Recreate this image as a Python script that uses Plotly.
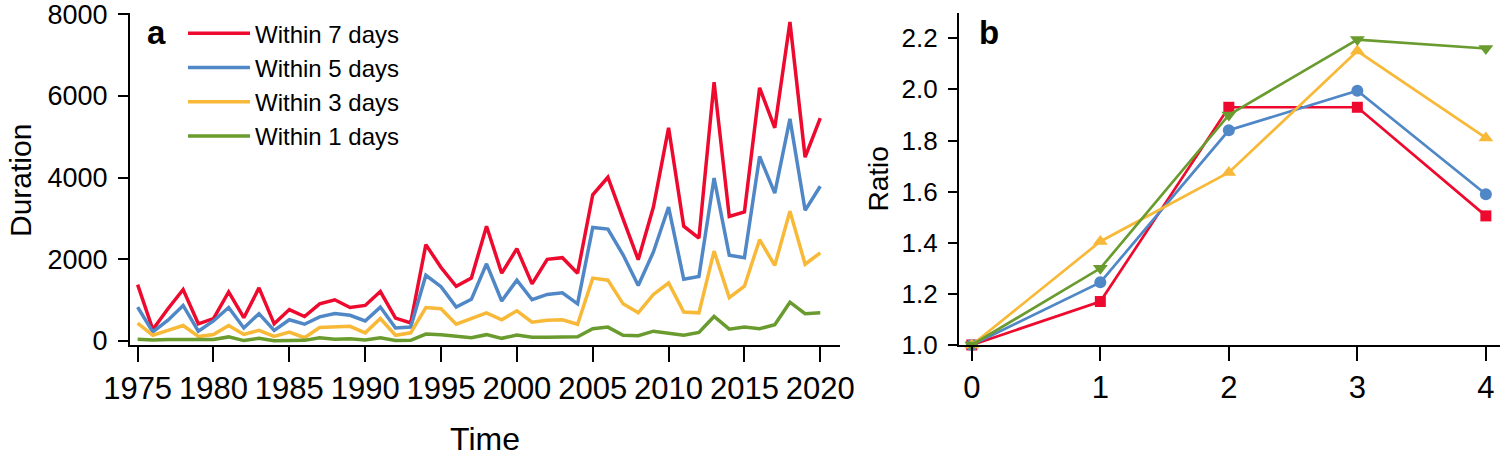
import plotly.graph_objects as go

# ---------------- data ----------------
years = [1975, 1976, 1977, 1978, 1979, 1980, 1981, 1982, 1983, 1984,
         1985, 1986, 1987, 1988, 1989, 1990, 1991, 1992, 1993, 1994,
         1995, 1996, 1997, 1998, 1999, 2000, 2001, 2002, 2003, 2004,
         2005, 2006, 2007, 2008, 2009, 2010, 2011, 2012, 2013, 2014,
         2015, 2016, 2017, 2018, 2019, 2020]

within7 = [1380, 280, 790, 1260, 420, 550, 1200, 570, 1300, 420,
           770, 600, 910, 1010, 820, 870, 1210, 560, 440, 2360,
           1800, 1340, 1540, 2810, 1660, 2260, 1400, 2000, 2040, 1660,
           3580, 4010, 2990, 1990, 3280, 5220, 2810, 2520, 6340, 3050,
           3160, 6200, 5220, 7810, 4500, 5460]
within5 = [830, 220, 510, 870, 240, 490, 820, 320, 670, 260,
           520, 410, 590, 670, 630, 490, 830, 320, 340, 1610,
           1330, 830, 1020, 1890, 980, 1490, 1010, 1140, 1180, 910,
           2780, 2740, 2110, 1360, 2180, 3280, 1510, 1580, 3990, 2100,
           2040, 4520, 3620, 5440, 3200, 3790]
within3 = [440, 140, 260, 380, 110, 160, 380, 160, 260, 110,
           220, 80, 330, 340, 360, 200, 550, 140, 200, 820,
           790, 410, 560, 690, 520, 740, 460, 510, 520, 410,
           1540, 1490, 910, 690, 1140, 1420, 710, 690, 2200, 1060,
           1340, 2480, 1850, 3180, 1880, 2160]
within1 = [40, 25, 35, 35, 35, 35, 100, 10, 65, 5,
           10, 15, 80, 40, 55, 25, 80, 10, 15, 170,
           155, 115, 80, 155, 65, 145, 90, 90, 90, 105,
           300, 340, 140, 130, 240, 200, 140, 210, 600, 290,
           340, 300, 400, 950, 670, 690]

series_names = ["Within 7 days", "Within 5 days", "Within 3 days", "Within 1 days"]

ratio_x = [0, 1, 2, 3, 4]
ratio7 = [1.0, 1.17, 1.93, 1.93, 1.505]
ratio5 = [1.0, 1.245, 1.84, 1.995, 1.59]
ratio3 = [1.0, 1.405, 1.675, 2.15, 1.81]
ratio1 = [1.0, 1.30, 1.90, 2.195, 2.16]

year_ticks = [1975, 1980, 1985, 1990, 1995, 2000, 2005, 2010, 2015, 2020]
duration_ticks = [0, 2000, 4000, 6000, 8000]
ratio_ticks = [1.0, 1.2, 1.4, 1.6, 1.8, 2.0, 2.2]

# ---------------- style ----------------
RED = "#EE0A2E"
BLUE = "#5087C6"
YELLOW = "#F8B838"
GREEN = "#6A9B2E"
FONT = "Arial, Liberation Sans, sans-serif"

fig = go.Figure()

panel_a = [(within7, RED), (within5, BLUE), (within3, YELLOW), (within1, GREEN)]
for (vals, col), name in zip(panel_a, series_names):
    fig.add_trace(go.Scatter(x=years, y=vals, mode="lines", name=name,
                             line=dict(color=col, width=3.5),
                             xaxis="x", yaxis="y", showlegend=True))

panel_b = [(ratio7, RED, "square", 11), (ratio5, BLUE, "circle", 12),
           (ratio3, YELLOW, "triangle-up", 13), (ratio1, GREEN, "triangle-down", 13)]
for (vals, col, sym, sz), name in zip(panel_b, series_names):
    fig.add_trace(go.Scatter(x=ratio_x, y=vals, mode="lines+markers", name=name,
                             line=dict(color=col, width=2.7),
                             marker=dict(symbol=sym, size=sz, color=col),
                             xaxis="x2", yaxis="y2", showlegend=False,
                             cliponaxis=False))

ax_common = dict(showline=True, linecolor="black", linewidth=2, ticks="outside",
                 tickcolor="black", tickwidth=2, showgrid=False, zeroline=False,
                 mirror=False, automargin=False, ticklabeloverflow="allow")

fig.update_layout(
    width=1500, height=457,
    margin=dict(l=0, r=0, t=0, b=0),
    paper_bgcolor="white", plot_bgcolor="white",
    font=dict(family=FONT, color="black"),
    xaxis=dict(domain=[0.0867, 0.56], range=[1974.5, 2021.3], tickvals=year_ticks,
               ticklen=15, tickfont=dict(size=31), anchor="y",
               title=dict(text="Time", font=dict(size=32), standoff=25), **ax_common),
    yaxis=dict(domain=[0.2451, 0.9705], range=[-98, 8020], tickvals=duration_ticks,
               ticklen=10, tickfont=dict(size=27), anchor="x", ticklabelstandoff=5,
               **ax_common),
    xaxis2=dict(domain=[0.6393, 1.0], range=[-0.1, 4.11], tickvals=ratio_x,
                ticklen=14, tickfont=dict(size=31), anchor="y2", **ax_common),
    yaxis2=dict(domain=[0.2451, 0.9722], range=[1.0, 2.3], tickvals=ratio_ticks,
                tickformat=".1f", ticklen=9, tickfont=dict(size=26), anchor="x2",
                ticklabelstandoff=5,
                title=dict(text="Ratio", font=dict(size=28), standoff=5), **ax_common),
    legend=dict(x=0.122, y=0.9755, xanchor="left", yanchor="top",
                font=dict(size=24), bgcolor="rgba(0,0,0,0)", itemwidth=62,
                tracegroupgap=0),
    annotations=[
        dict(text="Duration", x=0.0133, y=0.606, xref="paper", yref="paper",
             xanchor="center", yanchor="middle", textangle=-90, showarrow=False,
             font=dict(size=30), borderpad=0),
        dict(text="<b>a</b>", x=0.104, y=0.885, xref="paper", yref="paper",
             xanchor="center", yanchor="bottom", showarrow=False, font=dict(size=33)),
        dict(text="<b>b</b>", x=0.659, y=0.885, xref="paper", yref="paper",
             xanchor="center", yanchor="bottom", showarrow=False, font=dict(size=33)),
    ],
)

fig.write_html("out.html", config={"displayModeBar": False},
               post_script="document.body.style.margin='0';")
